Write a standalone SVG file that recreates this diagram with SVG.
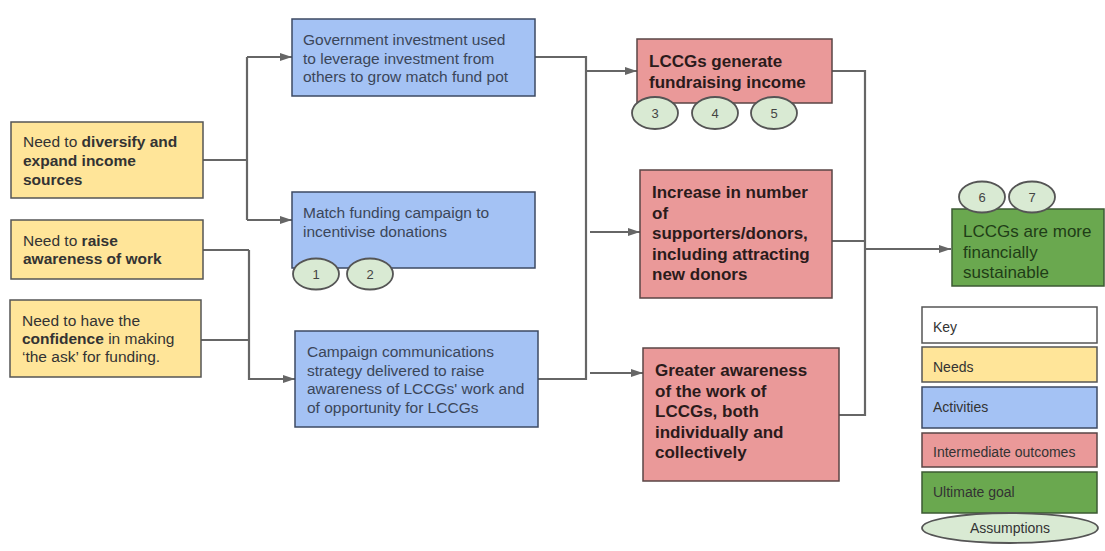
<svg xmlns="http://www.w3.org/2000/svg" width="1105" height="551" viewBox="0 0 1105 551">
<defs>
<marker id="arr" viewBox="0 0 12 10" refX="12" refY="5" markerWidth="12" markerHeight="10" markerUnits="userSpaceOnUse" orient="auto">
<path d="M0,1 L12,5 L0,9 Z" fill="#666"/>
</marker>
</defs>
<style>
text{font-family:"Liberation Sans",Arial,sans-serif}
.need{fill:#ffe599;stroke:#555;stroke-width:1.5}
.act{fill:#a4c2f4;stroke:#3d4a63;stroke-width:1.5}
.out{fill:#ea9999;stroke:#5a4545;stroke-width:1.5}
.goal{fill:#6aa84f;stroke:#3d5a33;stroke-width:1.5}
.key{fill:#fff;stroke:#555;stroke-width:1.5}
.asm{fill:#d9ead3;stroke:#555;stroke-width:1.8}
.tn{font-size:15.5px;fill:#333}
.ta{font-size:15.5px;fill:#3b4659}
.to{font-size:17px;font-weight:bold;fill:#2b1b1b}
.tg{font-size:17px;fill:#1f3d17}
.tk{font-size:14px;fill:#333}
.num{font-size:13px;fill:#444;text-anchor:middle}
.b{font-weight:bold}
.ln{fill:none;stroke:#666;stroke-width:2.2}
</style>
<g id="connectors">
<path class="ln" d="M203,160 H247"/>
<path class="ln" d="M247,57 V220"/>
<path class="ln" d="M247,57 H292" marker-end="url(#arr)"/>
<path class="ln" d="M247,220 H292" marker-end="url(#arr)"/>
<path class="ln" d="M203,250 H249"/>
<path class="ln" d="M201,340 H249"/>
<path class="ln" d="M249,250 V379 H295" marker-end="url(#arr)"/>
<path class="ln" d="M535,57 H586 V379 H538"/>
<path class="ln" d="M586,71 H637" marker-end="url(#arr)"/>
<path class="ln" d="M590,232 H640" marker-end="url(#arr)"/>
<path class="ln" d="M590,373 H643" marker-end="url(#arr)"/>
<path class="ln" d="M832,71 H865 V415 H839"/>
<path class="ln" d="M832,241 H865"/>
<path class="ln" d="M866,249 H951" marker-end="url(#arr)"/>
</g>
<g id="need1">
<rect class="need" x="11" y="122" width="192" height="76"/>
<text class="tn" x="23" y="147">Need to <tspan class="b">diversify and</tspan></text>
<text class="tn b" x="23" y="166">expand income</text>
<text class="tn b" x="23" y="185">sources</text>
</g>
<g id="need2">
<rect class="need" x="11" y="220" width="192" height="59"/>
<text class="tn" x="23" y="246">Need to <tspan class="b">raise</tspan></text>
<text class="tn b" x="23" y="264">awareness of work</text>
</g>
<g id="need3">
<rect class="need" x="10" y="300" width="191" height="77"/>
<text class="tn" x="22" y="326">Need to have the</text>
<text class="tn" x="22" y="344"><tspan class="b">confidence</tspan> in making</text>
<text class="tn" x="22" y="362">‘the ask’ for funding.</text>
</g>
<g id="act1">
<rect class="act" x="292" y="19" width="243" height="77"/>
<text class="ta" x="303" y="45">Government investment used</text>
<text class="ta" x="303" y="63.5">to leverage investment from</text>
<text class="ta" x="303" y="82">others to grow match fund pot</text>
</g>
<g id="act2">
<rect class="act" x="292" y="192" width="243" height="76"/>
<text class="ta" x="303" y="218">Match funding campaign to</text>
<text class="ta" x="303" y="236.5">incentivise donations</text>
</g>
<g id="asm1">
<ellipse class="asm" cx="316" cy="274" rx="23" ry="15.5"/>
<text class="num" x="316" y="279">1</text>
</g>
<g id="asm2">
<ellipse class="asm" cx="370" cy="274" rx="23" ry="15.5"/>
<text class="num" x="370" y="279">2</text>
</g>
<g id="act3">
<rect class="act" x="295" y="331" width="243" height="96"/>
<text class="ta" x="307" y="357">Campaign communications</text>
<text class="ta" x="307" y="375.5">strategy delivered to raise</text>
<text class="ta" x="307" y="394">awareness of LCCGs' work and</text>
<text class="ta" x="307" y="412.5">of opportunity for LCCGs</text>
</g>
<g id="out1">
<rect class="out" x="637" y="39" width="195" height="64"/>
<text class="to" x="649" y="67">LCCGs generate</text>
<text class="to" x="649" y="88">fundraising income</text>
</g>
<g id="asm3">
<ellipse class="asm" cx="655" cy="113" rx="23" ry="16"/>
<text class="num" x="655" y="118">3</text>
</g>
<g id="asm4">
<ellipse class="asm" cx="715" cy="113" rx="23" ry="16"/>
<text class="num" x="715" y="118">4</text>
</g>
<g id="asm5">
<ellipse class="asm" cx="774" cy="113" rx="23" ry="16"/>
<text class="num" x="774" y="118">5</text>
</g>
<g id="out2">
<rect class="out" x="640" y="170" width="192" height="128"/>
<text class="to" x="652" y="198">Increase in number</text>
<text class="to" x="652" y="218.5">of</text>
<text class="to" x="652" y="239">supporters/donors,</text>
<text class="to" x="652" y="259.5">including attracting</text>
<text class="to" x="652" y="280">new donors</text>
</g>
<g id="out3">
<rect class="out" x="643" y="348" width="196" height="133"/>
<text class="to" x="655" y="376">Greater awareness</text>
<text class="to" x="655" y="396.5">of the work of</text>
<text class="to" x="655" y="417">LCCGs, both</text>
<text class="to" x="655" y="437.5">individually and</text>
<text class="to" x="655" y="458">collectively</text>
</g>
<g id="goal">
<rect class="goal" x="952" y="209" width="152" height="77"/>
<text class="tg" x="963" y="237">LCCGs are more</text>
<text class="tg" x="963" y="257.5">financially</text>
<text class="tg" x="963" y="278">sustainable</text>
</g>
<g id="asm6">
<ellipse class="asm" cx="982" cy="197" rx="23" ry="15.5"/>
<text class="num" x="982" y="202">6</text>
</g>
<g id="asm7">
<ellipse class="asm" cx="1032" cy="197" rx="23" ry="15.5"/>
<text class="num" x="1032" y="202">7</text>
</g>
<g id="legend">
<rect class="key" x="922" y="307" width="175" height="36"/>
<text class="tk" x="933" y="332">Key</text>
<rect class="need" x="922" y="347" width="175" height="35"/>
<text class="tk" x="933" y="372">Needs</text>
<rect class="act" x="922" y="387" width="175" height="41"/>
<text class="tk" x="933" y="412">Activities</text>
<rect class="out" x="922" y="433" width="175" height="34"/>
<text class="tk" x="933" y="457">Intermediate outcomes</text>
<rect class="goal" x="922" y="472" width="175" height="41"/>
<text class="tk" x="933" y="497">Ultimate goal</text>
<ellipse class="asm" cx="1010" cy="528" rx="88" ry="15"/>
<text class="tk" x="1010" y="533" text-anchor="middle">Assumptions</text>
</g>
</svg>
